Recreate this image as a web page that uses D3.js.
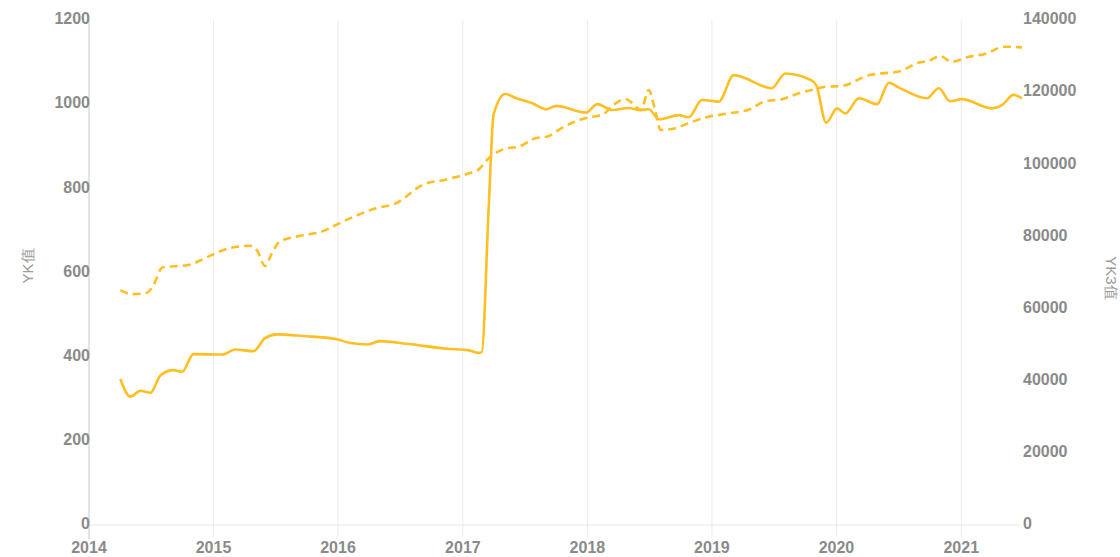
<!DOCTYPE html>
<html>
<head>
<meta charset="utf-8">
<script src="https://cdn.jsdelivr.net/npm/d3@7"></script>
<style>
  html, body { margin: 0; padding: 0; background: #fff; }
  svg { display: block; font-family: "Liberation Sans", Arial, sans-serif; }
</style>
</head>
<body>
<svg id="chart" width="1120" height="557"></svg>
<script>
// YK (left axis, solid line)
const ykDates = ["2014-04-03","2014-05-02","2014-06-01","2014-06-30","2014-07-30","2014-09-06","2014-10-01","2014-11-03",
  "2015-01-26","2015-03-06","2015-04-28","2015-06-01","2015-07-06","2015-09-21","2015-12-26",
  "2016-02-03","2016-03-29","2016-05-01","2016-07-27","2016-11-14",
  "2017-01-19","2017-02-14","2017-02-25","2017-03-18","2017-04-01","2017-05-05","2017-06-07","2017-07-24","2017-09-02","2017-10-01","2017-12-28",
  "2018-01-30","2018-03-15","2018-05-03","2018-06-01","2018-06-30","2018-07-30","2018-09-26","2018-10-25","2018-12-03",
  "2019-01-21","2019-03-06","2019-06-25","2019-08-04","2019-10-19","2019-11-03","2019-12-02",
  "2020-01-03","2020-01-27","2020-03-07","2020-04-29","2020-06-03","2020-07-05","2020-09-22","2020-10-27","2020-11-29",
  "2021-01-03","2021-04-01","2021-05-01","2021-06-03","2021-06-28"];
const ykValues = [347,305,319,314,356,368,364,406,
  405,417,413,444,453,449,442,
  433,429,437,430,419,
  415,409,410,760,975,1024,1014,1002,988,996,980,
  1000,986,991,986,988,964,974,969,1010,
  1006,1069,1038,1073,1057,1045,956,
  990,978,1014,1000,1051,1038,1014,1038,1007,
  1012,990,998,1022,1014];

// YK3 (right axis, dashed line)
const yk3Dates = ["2014-04-03","2014-05-08","2014-06-20","2014-07-09","2014-08-04","2014-10-20","2014-12-17",
  "2015-02-14","2015-04-18","2015-05-08","2015-06-01","2015-06-21","2015-07-13","2015-09-09","2015-11-22","2015-12-26",
  "2016-04-21","2016-06-19","2016-09-05","2016-11-14",
  "2017-01-19","2017-02-14","2017-03-18","2017-05-08","2017-06-14","2017-08-02","2017-09-09","2017-10-08","2017-11-17",
  "2018-01-04","2018-02-14","2018-03-15","2018-04-23","2018-05-12","2018-06-07","2018-06-30","2018-07-16","2018-08-04","2018-09-16","2018-10-25","2018-12-14",
  "2019-02-19","2019-04-20","2019-06-07","2019-07-24","2019-09-13","2019-10-30","2019-11-29",
  "2020-01-17","2020-04-05","2020-05-14","2020-07-02","2020-08-30","2020-09-28","2020-10-31","2020-12-04",
  "2021-01-23","2021-03-11","2021-05-08","2021-06-28"];
const yk3Values = [65100,64000,64400,66500,71400,72100,74400,
  76700,77400,76200,71800,75300,78500,80100,81600,83200,
  87800,89200,94300,95800,
  97500,98400,101700,104400,104900,107200,107800,109500,111500,
  113000,113700,116200,118100,117000,115000,120600,116000,109500,110000,111400,113000,
  114100,115200,117500,118000,119700,120800,121500,
  121700,124700,125200,125700,128200,128700,130000,128400,
  129800,130600,132600,132400];

const yearTicks = [2014,2015,2016,2017,2018,2019,2020,2021];
const leftTicks = [0,200,400,600,800,1000,1200];
const rightTicks = [0,20000,40000,60000,80000,100000,120000,140000];

const parse = d3.timeParse("%Y-%m-%d");
const lineColor = "#ffbe22";

const svg = d3.select("#chart");
const margin = { top: 20, right: 100, bottom: 32, left: 89 };
const W = 1120, H = 557;
const x0 = margin.left, yTop = margin.top, yBot = H - margin.bottom;

const x = d3.scaleTime()
  .domain([new Date(2014, 0, 1), parse("2021-06-28")])
  .range([x0, 1022]);
const yL = d3.scaleLinear().domain([0, 1200]).range([yBot, yTop]);
const yR = d3.scaleLinear().domain([0, 140000]).range([yBot, yTop]);

// vertical year grid lines
svg.append("g")
  .selectAll("line")
  .data(yearTicks.slice(1))
  .join("line")
  .attr("x1", d => x(new Date(d, 0, 1)))
  .attr("x2", d => x(new Date(d, 0, 1)))
  .attr("y1", yTop)
  .attr("y2", yBot + 12)
  .attr("stroke", "#ebebeb")
  .attr("stroke-width", 1);

// bottom baseline
svg.append("line")
  .attr("x1", x0).attr("x2", 1020)
  .attr("y1", yL(0)).attr("y2", yL(0))
  .attr("stroke", "#e6e6e6");

// left axis line
svg.append("line")
  .attr("x1", x0).attr("x2", x0)
  .attr("y1", yTop).attr("y2", yBot + 14)
  .attr("stroke", "#c8c8c8");

const labelStyle = sel => sel
  .attr("fill", "#8a8a8a")
  .attr("font-size", 16)
  .attr("font-weight", "bold");

// left tick labels
svg.append("g")
  .selectAll("text")
  .data(leftTicks)
  .join("text")
  .attr("x", x0 + 1)
  .attr("y", d => yL(d))
  .attr("text-anchor", "end")
  .attr("dominant-baseline", "middle")
  .text(d => d)
  .call(labelStyle);

// right tick labels
svg.append("g")
  .selectAll("text")
  .data(rightTicks)
  .join("text")
  .attr("x", 1023)
  .attr("y", d => yR(d))
  .attr("text-anchor", "start")
  .attr("dominant-baseline", "middle")
  .text(d => d)
  .call(labelStyle);

// year labels
svg.append("g")
  .selectAll("text")
  .data(yearTicks)
  .join("text")
  .attr("x", d => x(new Date(d, 0, 1)))
  .attr("y", 549)
  .attr("text-anchor", "middle")
  .attr("dominant-baseline", "middle")
  .text(d => d)
  .call(labelStyle);

// axis titles
svg.append("text")
  .attr("transform", "translate(33,266) rotate(-90)")
  .attr("text-anchor", "middle")
  .attr("fill", "#9a9a9a")
  .attr("font-size", 15)
  .text("YK值");
svg.append("text")
  .attr("transform", "translate(1106,278) rotate(90)")
  .attr("text-anchor", "middle")
  .attr("fill", "#9a9a9a")
  .attr("font-size", 15)
  .text("YK3值");

// lines
const ykData = ykDates.map((d, i) => [parse(d), ykValues[i]]);
const yk3Data = yk3Dates.map((d, i) => [parse(d), yk3Values[i]]);

const lineL = d3.line().x(d => x(d[0])).y(d => yL(d[1])).curve(d3.curveMonotoneX);
const lineR = d3.line().x(d => x(d[0])).y(d => yR(d[1])).curve(d3.curveMonotoneX);

svg.append("path")
  .datum(yk3Data)
  .attr("d", lineR)
  .attr("fill", "none")
  .attr("stroke", lineColor)
  .attr("stroke-width", 2.6)
  .attr("stroke-dasharray", "8,5");

svg.append("path")
  .datum(ykData)
  .attr("d", lineL)
  .attr("fill", "none")
  .attr("stroke", lineColor)
  .attr("stroke-width", 2.6)
  .attr("stroke-linejoin", "round");
</script>
</body>
</html>
